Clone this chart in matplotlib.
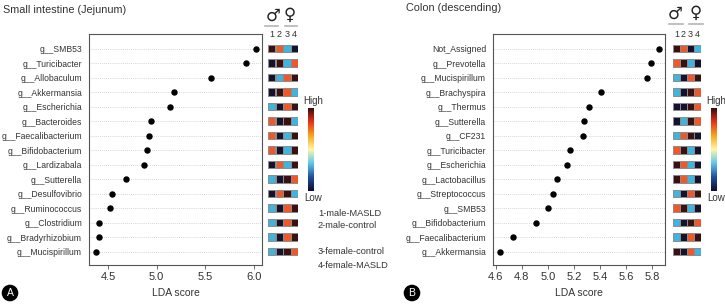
import numpy as np
import matplotlib
matplotlib.use('Agg')
import matplotlib.pyplot as plt
from matplotlib.colors import LinearSegmentedColormap, ListedColormap
from matplotlib.colorbar import ColorbarBase
from matplotlib.lines import Line2D

plt.rcParams['font.family'] = ['Liberation Sans', 'DejaVu Sans']

# панель A: тонкий кишечник
genera_a = ['g__SMB53', 'g__Turicibacter', 'g__Allobaculum', 'g__Akkermansia',
            'g__Escherichia', 'g__Bacteroides', 'g__Faecalibacterium',
            'g__Bifidobacterium', 'g__Lardizabala', 'g__Sutterella',
            'g__Desulfovibrio', 'g__Ruminococcus', 'g__Clostridium',
            'g__Bradyrhizobium', 'g__Mucispirillum']
lda_a = [6.02, 5.92, 5.56, 5.18, 5.14, 4.94, 4.92, 4.90, 4.87, 4.69,
         4.54, 4.52, 4.41, 4.41, 4.38]
# уровни: 0 - низкий (тёмно-синий), 1 - голубой, 2 - оранжевый, 3 - высокий (бордовый)
levels_a = [[3, 2, 1, 0], [0, 3, 1, 2], [0, 1, 2, 3], [0, 3, 2, 1],
            [1, 0, 2, 3], [2, 0, 3, 1], [2, 0, 1, 3], [2, 0, 1, 3],
            [0, 2, 1, 3], [1, 0, 3, 2], [0, 2, 3, 1], [1, 0, 2, 3],
            [1, 0, 2, 3], [1, 0, 2, 3], [1, 0, 3, 2]]

# панель B: толстый кишечник
genera_b = ['Not_Assigned', 'g__Prevotella', 'g__Mucispirillum', 'g__Brachyspira',
            'g__Thermus', 'g__Sutterella', 'g__CF231', 'g__Turicibacter',
            'g__Escherichia', 'g__Lactobacillus', 'g__Streptococcus', 'g__SMB53',
            'g__Bifidobacterium', 'g__Faecalibacterium', 'g__Akkermansia']
lda_b = [5.856, 5.79, 5.76, 5.41, 5.32, 5.28, 5.27, 5.17, 5.15, 5.07,
         5.04, 5.0, 4.91, 4.73, 4.63]
levels_b = [[3, 2, 0, 1], [2, 3, 1, 0], [1, 0, 2, 3], [1, 0, 3, 2],
            [0, 0, 3, 2], [0, 1, 3, 2], [1, 2, 3, 0], [2, 3, 1, 0],
            [3, 2, 1, 0], [3, 2, 1, 0], [1, 0, 2, 3], [2, 3, 1, 0],
            [1, 0, 3, 2], [1, 0, 2, 3], [3, 0, 2, 1]]

group_labels = ['1', '2', '3', '4']
legend_lines = ['1-male-MASLD', '2-male-control', '', '3-female-control', '4-female-MASLD']

W, H = 725, 304
fig = plt.figure(figsize=(W / 100, H / 100), dpi=100)


def px_axes(l, t, r, b):
    return fig.add_axes([l / W, 1 - b / H, (r - l) / W, (b - t) / H])


def px_text(x, y, s, **kw):
    fig.text(x / W, 1 - y / H, s, **kw)


def px_line(x1, x2, y):
    fig.add_artist(Line2D([x1 / W, x2 / W], [1 - y / H, 1 - y / H],
                          color='#b5b5b5', lw=1.2))


level_cmap = ListedColormap(['#15122e', '#3fb4de', '#f0582a', '#3b1012'])
bar_cmap = LinearSegmentedColormap.from_list(
    'lowhigh', ['#0c0c30', '#1f4f9c', '#5fc6ea', '#fdf7a8', '#f8a61e',
                '#e8321b', '#3a0a0a'])

ROW_TOP, ROW_BOT = 34, 265


def dot_panel(l, r, genera, lda, xlim, xticks, xticklabels):
    ax = px_axes(l, ROW_TOP, r, ROW_BOT)
    rows = np.arange(len(genera))
    for y in rows:
        ax.axhline(y, color='#c8c8c8', lw=0.6, ls=(0, (1, 1.5)), zorder=0)
    ax.scatter(lda, rows, s=13, color='black', zorder=3)
    ax.set_ylim(len(genera) - 0.08, -1.0)
    ax.set_xlim(*xlim)
    ax.set_yticks(rows)
    ax.set_yticklabels(genera, fontsize=6.2, color='#333333')
    ax.tick_params(axis='y', length=0, pad=5)
    ax.set_xticks(xticks)
    ax.set_xticklabels(xticklabels, fontsize=8, color='#333333')
    ax.tick_params(axis='x', length=3, width=0.6, color='#555555', pad=2)
    for sp in ax.spines.values():
        sp.set_color('#555555')
        sp.set_linewidth(0.8)
    ax.set_xlabel('LDA score', fontsize=7.5, color='#333333', labelpad=4)
    return ax


def heat_panel(l, r, levels):
    ax = px_axes(l, ROW_TOP, r, ROW_BOT)
    lv = np.array(levels)
    n = lv.shape[0]
    cols, rows = np.meshgrid(np.arange(4), np.arange(n))
    ax.scatter(cols.ravel(), rows.ravel(), c=lv.ravel(), cmap=level_cmap,
               vmin=-0.5, vmax=3.5, marker='s', s=28,
               edgecolors='#8c8c8c', linewidths=0.7)
    ax.set_xlim(-0.5, 3.5)
    ax.set_ylim(n - 0.08, -1.0)
    ax.axis('off')
    for i, lab in enumerate(group_labels):
        ax.text(i, -0.95, lab, ha='center', va='center', fontsize=6.5,
                color='#333333')
    return ax


def colorbar(l, r, t, b):
    cax = px_axes(l, t, r, b)
    cb = ColorbarBase(cax, cmap=bar_cmap, orientation='vertical')
    cb.set_ticks([])
    cb.outline.set_visible(False)
    px_text((l + r) / 2 + 2, t - 7, 'High', ha='center', va='center',
            fontsize=7, color='#333333')
    px_text((l + r) / 2 + 2, b + 7, 'Low', ha='center', va='center',
            fontsize=7, color='#333333')


def sex_symbols(xm, xf, y, line_m, line_f, line_y):
    px_text(xm, y, '\u2642', ha='center', va='center', fontsize=12,
            color='#222222', family='DejaVu Sans')
    px_text(xf, y - 1, '\u2640', ha='center', va='center', fontsize=12,
            color='#222222', family='DejaVu Sans')
    px_line(line_m[0], line_m[1], line_y)
    px_line(line_f[0], line_f[1], line_y)


# A
dot_panel(89, 262, genera_a, lda_a, (4.306, 6.08), [4.5, 5.0, 5.5, 6.0],
          ['4.5', '5.0', '5.5', '6.0'])
heat_panel(268, 298.4, levels_a)
colorbar(308, 314, 108, 191)
px_text(3, 10, 'Small intestine (Jejunum)', ha='left', va='center',
        fontsize=7.8, color='#333333')
sex_symbols(273, 290, 16, (265, 278), (285, 297), 26)
for k, line in enumerate(legend_lines):
    if line:
        px_text(318, 213 + k * 13, line, ha='left', va='center',
                fontsize=6.7, color='#333333')

# B
dot_panel(493, 665, genera_b, lda_b, (4.58, 5.9),
          [4.6, 4.8, 5.0, 5.2, 5.4, 5.6, 5.8],
          ['4.6', '4.8', '5.0', '5.2', '5.4', '5.6', '5.8'])
heat_panel(673, 701, levels_b)
colorbar(711, 717, 108, 191)
px_text(406, 8, 'Colon (descending)', ha='left', va='center',
        fontsize=7.8, color='#333333')
sex_symbols(675, 696, 14, (669, 683), (689, 703), 24)

# метки панелей
for x, s in [(10, 'A'), (412, 'B')]:
    px_text(x, 293, s, ha='center', va='center', fontsize=7.5, color='white',
            bbox=dict(boxstyle='circle,pad=0.25', fc='black', ec='black'))

fig.savefig('out.png', dpi=100)
